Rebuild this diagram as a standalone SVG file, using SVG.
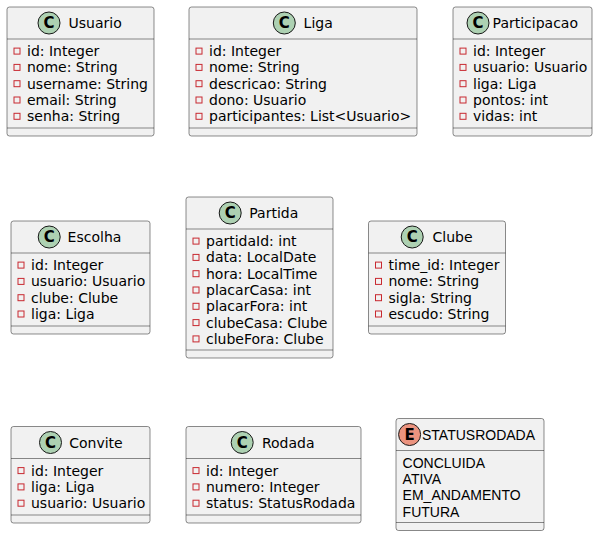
<svg xmlns="http://www.w3.org/2000/svg" width="598" height="537" viewBox="0 0 598 537">
<style>
.box{fill:#F1F1F1;stroke:#181818;stroke-width:0.5}
.sep{stroke:#181818;stroke-width:0.5}
.ci{fill:#ADD1B2;stroke:#181818;stroke-width:1}
.ce{fill:#EB937F;stroke:#181818;stroke-width:1}
.cl{font-family:"DejaVu Sans",sans-serif;font-size:15px;font-weight:bold;fill:#000;text-anchor:middle}
.t{font-family:"DejaVu Sans",sans-serif;font-size:14px;fill:#000}
.e{font-family:"Liberation Sans",Arial,sans-serif;font-size:14px;fill:#000}
.v{fill:none;stroke:#C82930;stroke-width:1}
</style>
<rect width="598" height="537" fill="#FFFFFF"/>
<g id="Usuario">
<rect class="box" x="7" y="7" width="147" height="129" rx="2.5"/>
<circle class="ci" cx="49" cy="23" r="11"/><text class="cl" x="49" y="28.3">C</text>
<text class="t" x="68.5" y="28">Usuario</text>
<line class="sep" x1="7" y1="39" x2="154" y2="39"/>
<rect class="v" x="14" y="48.1" width="6" height="6"/><text class="t" x="27" y="56.1">id: Integer</text>
<rect class="v" x="14" y="64.4" width="6" height="6"/><text class="t" x="27" y="72.4">nome: String</text>
<rect class="v" x="14" y="80.7" width="6" height="6"/><text class="t" x="27" y="88.7">username: String</text>
<rect class="v" x="14" y="97" width="6" height="6"/><text class="t" x="27" y="105">email: String</text>
<rect class="v" x="14" y="113.3" width="6" height="6"/><text class="t" x="27" y="121.3">senha: String</text>
<line class="sep" x1="7" y1="128" x2="154" y2="128"/>
</g>
<g id="Liga">
<rect class="box" x="189" y="7" width="228" height="129" rx="2.5"/>
<circle class="ci" cx="284.3" cy="23" r="11"/><text class="cl" x="284.3" y="28.3">C</text>
<text class="t" x="303.6" y="28">Liga</text>
<line class="sep" x1="189" y1="39" x2="417" y2="39"/>
<rect class="v" x="196" y="48.1" width="6" height="6"/><text class="t" x="209" y="56.1">id: Integer</text>
<rect class="v" x="196" y="64.4" width="6" height="6"/><text class="t" x="209" y="72.4">nome: String</text>
<rect class="v" x="196" y="80.7" width="6" height="6"/><text class="t" x="209" y="88.7">descricao: String</text>
<rect class="v" x="196" y="97" width="6" height="6"/><text class="t" x="209" y="105">dono: Usuario</text>
<rect class="v" x="196" y="113.3" width="6" height="6"/><text class="t" x="209" y="121.3">participantes: List&lt;Usuario&gt;</text>
<line class="sep" x1="189" y1="128" x2="417" y2="128"/>
</g>
<g id="Participacao">
<rect class="box" x="453" y="7" width="139" height="129" rx="2.5"/>
<circle class="ci" cx="478" cy="23" r="11"/><text class="cl" x="478" y="28.3">C</text>
<text class="t" x="492.6" y="28">Participacao</text>
<line class="sep" x1="453" y1="39" x2="592" y2="39"/>
<rect class="v" x="460" y="48.1" width="6" height="6"/><text class="t" x="473" y="56.1">id: Integer</text>
<rect class="v" x="460" y="64.4" width="6" height="6"/><text class="t" x="473" y="72.4">usuario: Usuario</text>
<rect class="v" x="460" y="80.7" width="6" height="6"/><text class="t" x="473" y="88.7">liga: Liga</text>
<rect class="v" x="460" y="97" width="6" height="6"/><text class="t" x="473" y="105">pontos: int</text>
<rect class="v" x="460" y="113.3" width="6" height="6"/><text class="t" x="473" y="121.3">vidas: int</text>
<line class="sep" x1="453" y1="128" x2="592" y2="128"/>
</g>
<g id="Escolha">
<rect class="box" x="11" y="221" width="139" height="113" rx="2.5"/>
<circle class="ci" cx="49.2" cy="237" r="11"/><text class="cl" x="49.2" y="242.3">C</text>
<text class="t" x="67.6" y="242">Escolha</text>
<line class="sep" x1="11" y1="253" x2="150" y2="253"/>
<rect class="v" x="18" y="262.1" width="6" height="6"/><text class="t" x="31" y="270.1">id: Integer</text>
<rect class="v" x="18" y="278.4" width="6" height="6"/><text class="t" x="31" y="286.4">usuario: Usuario</text>
<rect class="v" x="18" y="294.7" width="6" height="6"/><text class="t" x="31" y="302.7">clube: Clube</text>
<rect class="v" x="18" y="311" width="6" height="6"/><text class="t" x="31" y="319">liga: Liga</text>
<line class="sep" x1="11" y1="326" x2="150" y2="326"/>
</g>
<g id="Partida">
<rect class="box" x="186" y="197" width="147" height="161" rx="2.5"/>
<circle class="ci" cx="230.2" cy="213" r="11"/><text class="cl" x="230.2" y="218.3">C</text>
<text class="t" x="249.3" y="218">Partida</text>
<line class="sep" x1="186" y1="229" x2="333" y2="229"/>
<rect class="v" x="193" y="238.1" width="6" height="6"/><text class="t" x="206" y="246.1">partidaId: int</text>
<rect class="v" x="193" y="254.4" width="6" height="6"/><text class="t" x="206" y="262.4">data: LocalDate</text>
<rect class="v" x="193" y="270.7" width="6" height="6"/><text class="t" x="206" y="278.7">hora: LocalTime</text>
<rect class="v" x="193" y="287" width="6" height="6"/><text class="t" x="206" y="295">placarCasa: int</text>
<rect class="v" x="193" y="303.3" width="6" height="6"/><text class="t" x="206" y="311.3">placarFora: int</text>
<rect class="v" x="193" y="319.6" width="6" height="6"/><text class="t" x="206" y="327.6">clubeCasa: Clube</text>
<rect class="v" x="193" y="335.9" width="6" height="6"/><text class="t" x="206" y="343.9">clubeFora: Clube</text>
<line class="sep" x1="186" y1="350" x2="333" y2="350"/>
</g>
<g id="Clube">
<rect class="box" x="368.5" y="221" width="137" height="113" rx="2.5"/>
<circle class="ci" cx="412.2" cy="237" r="11"/><text class="cl" x="412.2" y="242.3">C</text>
<text class="t" x="432.5" y="242">Clube</text>
<line class="sep" x1="368.5" y1="253" x2="505.5" y2="253"/>
<rect class="v" x="375.5" y="262.1" width="6" height="6"/><text class="t" x="388.5" y="270.1">time_id: Integer</text>
<rect class="v" x="375.5" y="278.4" width="6" height="6"/><text class="t" x="388.5" y="286.4">nome: String</text>
<rect class="v" x="375.5" y="294.7" width="6" height="6"/><text class="t" x="388.5" y="302.7">sigla: String</text>
<rect class="v" x="375.5" y="311" width="6" height="6"/><text class="t" x="388.5" y="319">escudo: String</text>
<line class="sep" x1="368.5" y1="326" x2="505.5" y2="326"/>
</g>
<g id="Convite">
<rect class="box" x="11" y="426.5" width="139" height="96.5" rx="2.5"/>
<circle class="ci" cx="50.5" cy="442.5" r="11"/><text class="cl" x="50.5" y="447.8">C</text>
<text class="t" x="69.2" y="447.5">Convite</text>
<line class="sep" x1="11" y1="458.5" x2="150" y2="458.5"/>
<rect class="v" x="18" y="467.6" width="6" height="6"/><text class="t" x="31" y="475.6">id: Integer</text>
<rect class="v" x="18" y="483.9" width="6" height="6"/><text class="t" x="31" y="491.9">liga: Liga</text>
<rect class="v" x="18" y="500.2" width="6" height="6"/><text class="t" x="31" y="508.2">usuario: Usuario</text>
<line class="sep" x1="11" y1="515" x2="150" y2="515"/>
</g>
<g id="Rodada">
<rect class="box" x="186" y="426.5" width="175" height="96.5" rx="2.5"/>
<circle class="ci" cx="242.2" cy="442.5" r="11"/><text class="cl" x="242.2" y="447.8">C</text>
<text class="t" x="261.9" y="447.5">Rodada</text>
<line class="sep" x1="186" y1="458.5" x2="361" y2="458.5"/>
<rect class="v" x="193" y="467.6" width="6" height="6"/><text class="t" x="206" y="475.6">id: Integer</text>
<rect class="v" x="193" y="483.9" width="6" height="6"/><text class="t" x="206" y="491.9">numero: Integer</text>
<rect class="v" x="193" y="500.2" width="6" height="6"/><text class="t" x="206" y="508.2">status: StatusRodada</text>
<line class="sep" x1="186" y1="515" x2="361" y2="515"/>
</g>
<g id="STATUSRODADA">
<rect class="box" x="396" y="418.5" width="148" height="112" rx="2.5"/>
<circle class="ce" cx="409.6" cy="434.5" r="11"/><text class="cl" x="409.6" y="439.8">E</text>
<text class="e" x="422" y="439.5">STATUSRODADA</text>
<line class="sep" x1="396" y1="450.5" x2="544" y2="450.5"/>
<text class="e" x="402.6" y="467.8">CONCLUIDA</text>
<text class="e" x="402.6" y="484.1">ATIVA</text>
<text class="e" x="402.6" y="500.4">EM_ANDAMENTO</text>
<text class="e" x="402.6" y="516.7">FUTURA</text>
<line class="sep" x1="396" y1="522.5" x2="544" y2="522.5"/>
</g>
<g id="connectors"></g>
</svg>
